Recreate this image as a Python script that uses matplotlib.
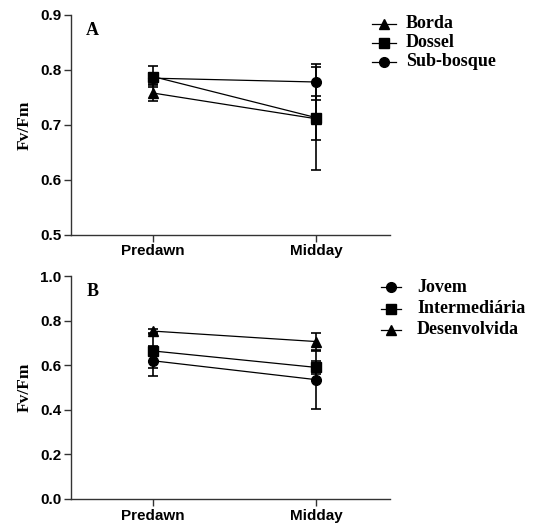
import matplotlib
matplotlib.use("Agg")
import matplotlib.pyplot as plt
from matplotlib.lines import Line2D

# data
periods = ["Predawn", "Midday"]

a_names = ["Borda", "Dossel", "Sub-bosque"]
a_markers = ["^", "s", "o"]
a_means = [[0.758, 0.711], [0.788, 0.713], [0.785, 0.778]]
a_errs = [[0.015, 0.094], [0.019, 0.040], [0.010, 0.033]]

b_names = ["Jovem", "Intermediária", "Desenvolvida"]
b_markers = ["o", "s", "^"]
b_means = [[0.620, 0.535], [0.664, 0.590], [0.753, 0.706]]
b_errs = [[0.067, 0.130], [0.078, 0.030], [0.010, 0.037]]

W, H = 535, 527
fig = plt.figure(figsize=(W / 100, H / 100), dpi=100)

tick_font = dict(family="Liberation Sans", weight="bold", size=11)
serif = dict(family="Liberation Serif", weight="bold")


def fx(px):
    return px / W


def fy(py):
    return 1 - py / H


def legend_rows(names, markers, x0, x1, xt, rows):
    # hand placed legend, pixel positions
    for nm, mk, y in zip(names, markers, rows):
        fig.add_artist(Line2D([fx(x0), fx(x1)], [fy(y), fy(y)], color="black",
                              lw=0.9, transform=fig.transFigure))
        fig.add_artist(Line2D([fx((x0 + x1) / 2)], [fy(y)], color="black",
                              marker=mk, ms=7, transform=fig.transFigure))
        fig.text(fx(xt), fy(y), nm, fontsize=13, ha="left", va="center", **serif)


def panel(rect, names, markers, means, errs, ylim, yticks, letter):
    ax = fig.add_axes(rect)
    x = list(range(len(periods)))
    for nm, mk, m, e in zip(names, markers, means, errs):
        ax.errorbar(x, m, yerr=e, color="black", marker=mk, ms=7, lw=0.9,
                    elinewidth=1.2, capsize=3.6, capthick=1.2, label=nm)
    ax.set_xlim(-0.5, 1.45)
    ax.set_ylim(*ylim)
    ax.set_yticks(yticks)
    ax.set_yticklabels(["%.1f" % t for t in yticks], fontdict=tick_font)
    ax.set_xticks(x)
    ax.set_xticklabels(periods, fontdict=tick_font)
    for s in ["top", "right"]:
        ax.spines[s].set_visible(False)
    for s in ["left", "bottom"]:
        ax.spines[s].set_color("#333333")
        ax.spines[s].set_linewidth(1.0)
    ax.tick_params(direction="out", length=5, width=1.0, color="#333333", pad=2)
    ax.set_ylabel("Fv/Fm", fontsize=12.5, labelpad=5, **serif)
    ax.text(0.068, 0.93, letter, transform=ax.transAxes, fontsize=13,
            ha="center", va="center", **serif)
    return ax


panel([fx(71), fy(234.7), 319 / W, 219.7 / H], a_names, a_markers, a_means,
      a_errs, (0.5, 0.9), [0.5, 0.6, 0.7, 0.8, 0.9], "A")
legend_rows(a_names, a_markers, 372, 396, 406, [23.5, 42.5, 61.5])

panel([fx(71), fy(499), 319 / W, 223 / H], b_names, b_markers, b_means,
      b_errs, (0.0, 1.0), [0.0, 0.2, 0.4, 0.6, 0.8, 1.0], "B")
legend_rows(b_names, b_markers, 381, 401, 417, [287, 308.5, 330])

fig.savefig("out.png", dpi=100)
